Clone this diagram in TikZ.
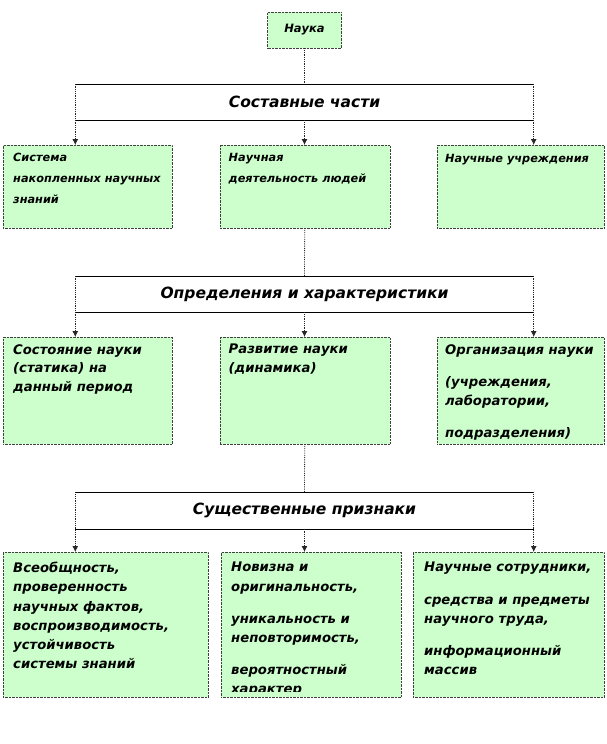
\documentclass[tikz,border=0pt]{standalone}
\usepackage{fontspec}
\setmainfont{DejaVu Sans}
\usepackage{xcolor}
\usepackage{tikz}
\usetikzlibrary{positioning,arrows.meta}

\definecolor{verde}{HTML}{CCFFCC}

\begin{document}
\begin{tikzpicture}[x=1pt,y=-1pt,
    caja/.style={draw=black!75, densely dotted, fill=verde, anchor=north west, inner sep=0pt},
    cab/.style={fill=white, minimum width=458pt, minimum height=36pt, inner sep=0pt,
        font=\bfseries\itshape\fontsize{15.5}{17}\selectfont},
    texto/.style={anchor=north west, align=left, inner sep=0pt},
    flecha/.style={densely dotted, line width=0.8pt, black!85, -{Latex[length=6pt,width=6pt]}},
    linea/.style={densely dotted, line width=0.8pt, black!85}]
    \useasboundingbox (0,0) rectangle (606,744);

    % Nodo superior
    \node[draw=black!75, densely dotted, fill=verde, minimum width=74pt, minimum height=36pt,
        font=\bfseries\itshape\fontsize{11.5}{13}\selectfont] (ciencia) at (304.5,30) {Наука};

    % Encabezados
    \node[cab] (h1) at (304.5,102) {Составные части};
    \node[cab] (h2) at (304.5,294) {Определения и характеристики};
    \node[cab] (h3) at (304.5,510.5) {Существенные признаки};

    % Cajas verdes
    \node[caja, minimum width=169pt, minimum height=83pt] (c11) at (3,145) {};
    \node[caja, minimum width=170pt, minimum height=83pt] (c12) at (219.5,145) {};
    \node[caja, minimum width=167pt, minimum height=83pt] (c13) at (437,145) {};
    \node[caja, minimum width=169pt, minimum height=107pt] (c21) at (3,337) {};
    \node[caja, minimum width=170pt, minimum height=107pt] (c22) at (219.5,337) {};
    \node[caja, minimum width=167pt, minimum height=107pt] (c23) at (437,337) {};
    \node[caja, minimum width=205pt, minimum height=145pt] (c31) at (3,552) {};
    \node[caja, minimum width=180pt, minimum height=145pt] (c32) at (221,552) {};
    \node[caja, minimum width=191pt, minimum height=145pt] (c33) at (413,552) {};

    % Textos
    \begin{scope}[every node/.style={texto, font=\bfseries\itshape\fontsize{11.3}{21}\selectfont}]
        \node (t11) at ([xshift=10pt,yshift=-8pt]c11.north west) {Система\\накопленных научных\\знаний};
        \node (t12) at ([xshift=9pt,yshift=-8pt]c12.north west) {Научная\\деятельность людей};
        \node (t13) at ([xshift=8pt,yshift=-9pt]c13.north west) {Научные учреждения};
    \end{scope}
    \begin{scope}[every node/.style={texto, font=\bfseries\itshape\fontsize{13.2}{18.8}\selectfont}]
        \node (t21) at ([xshift=10pt,yshift=-7pt]c21.north west) {Состояние науки\\(статика) на\\данный период};
        \node (t22) at ([xshift=9pt,yshift=-7pt]c22.north west) {Развитие науки\\(динамика)};
        \node (t23) at ([xshift=8pt,yshift=-7pt]c23.north west) {Организация науки\\[14pt](учреждения,\\лаборатории,\\[13pt]подразделения)};
    \end{scope}
    \begin{scope}[every node/.style={texto, font=\bfseries\itshape\fontsize{13.2}{19.2}\selectfont}]
        \node (t31) at ([xshift=10pt,yshift=-10pt]c31.north west) {Всеобщность,\\проверенность\\научных фактов,\\воспроизводимость,\\устойчивость\\системы знаний};
        \node (t33) at ([xshift=11pt,yshift=-10pt]c33.north west) {Научные сотрудники,\\[13pt]средства и предметы\\научного труда,\\[13pt]информационный\\массив};
        \begin{scope}
            \clip (c32.north west) rectangle ([yshift=6pt]c32.south east);
            \node (t32) at ([xshift=10pt,yshift=-10pt]c32.north west) {Новизна и\\оригинальность,\\[13pt]уникальность и\\неповторимость,\\[13pt]вероятностный\\характер};
        \end{scope}
    \end{scope}

    % Lineas verticales
    \draw[linea] (ciencia.south) -- (h1.north);
    \draw[linea] (c12.south) -- (h2.north);
    \draw[linea] (c22.south) -- (h3.north);

    % Bordes de encabezados y flechas hacia las cajas
    \foreach \h/\f in {h1/1, h2/2, h3/3} {
        \draw (\h.north west) -- (\h.north east);
        \draw (\h.south west) -- (\h.south east);
        \draw[flecha] (\h.north west) -- (\h.north west |- c\f1.north);
        \draw[flecha] (\h.south) -- (\h.south |- c\f2.north);
        \draw[flecha] (\h.north east) -- (\h.north east |- c\f3.north);
    }

\end{tikzpicture}
\end{document}
